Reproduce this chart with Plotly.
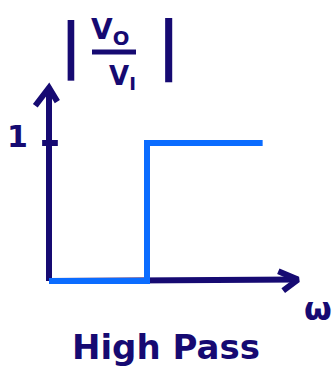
import plotly.graph_objects as go

# Ideal high-pass magnitude response |Vo/Vi| versus omega
cutoff = 1.0
omega = [0.0, cutoff, cutoff, 2.18]
gain = [0.0, 0.0, 1.0, 1.0]
gain_ticks = [1.0]
gain_tick_labels = ["1"]

NAVY = "#160a72"
BLUE = "#0b6cff"
W, H = 336, 377

# axis scaling: origin at (49, 281) px, 98 px per omega unit, 138 px per gain unit
X0, Y0, SX, SY = 49, 281, 98, 138
x_range = [-X0 / SX, (W - X0) / SX]
y_range = [(Y0 - H) / SY, Y0 / SY]

x_end = 2.54   # tip of the omega axis arrow
y_end = 1.40   # tip of the gain axis arrow

fig = go.Figure()

# vertical axis with chevron head
fig.add_trace(go.Scatter(x=[0, 0], y=[0, y_end], mode="lines",
                         line=dict(color=NAVY, width=6), hoverinfo="skip"))
fig.add_trace(go.Scatter(x=[-0.14, 0, 0.085], y=[y_end - 0.13, y_end, y_end - 0.10],
                         mode="lines", line=dict(color=NAVY, width=6), hoverinfo="skip"))
# horizontal axis with chevron head
fig.add_trace(go.Scatter(x=[0, x_end], y=[0, 0.01], mode="lines",
                         line=dict(color=NAVY, width=6), hoverinfo="skip"))
fig.add_trace(go.Scatter(x=[x_end - 0.20, x_end, x_end - 0.15], y=[0.07, 0.01, -0.07],
                         mode="lines", line=dict(color=NAVY, width=6), hoverinfo="skip"))

# tick mark on the gain axis
for t in gain_ticks:
    fig.add_trace(go.Scatter(x=[-0.07, 0.09], y=[t, t], mode="lines",
                             line=dict(color=NAVY, width=6), hoverinfo="skip"))

# step response
fig.add_trace(go.Scatter(x=omega, y=gain, mode="lines",
                         line=dict(color=BLUE, width=6), hoverinfo="skip"))


def px(x, y):
    return dict(x=x / W, y=1 - y / H, xref="paper", yref="paper",
                xanchor="center", yanchor="middle", showarrow=False)


FONT = "DejaVu Sans"
annotations = []
for t, lab in zip(gain_ticks, gain_tick_labels):
    annotations.append(dict(x=-0.32, y=t + 0.05, xref="x", yref="y", text="<b>" + lab + "</b>",
                            xanchor="center", yanchor="middle", showarrow=False,
                            font=dict(family=FONT, size=30, color=NAVY)))
annotations += [
    dict(**px(71, 46), text="<b>|</b>", font=dict(family=FONT, size=60, color=NAVY)),
    dict(**px(168, 46), text="<b>|</b>", font=dict(family=FONT, size=64, color=NAVY)),
    dict(**px(110, 31), text="<b>V<sub>O</sub></b>", font=dict(family=FONT, size=28, color=NAVY)),
    dict(**px(123, 78), text="<b>V<sub>I</sub></b>", font=dict(family=FONT, size=26, color=NAVY)),
    dict(**px(318, 309), text="<b>ω</b>", font=dict(family=FONT, size=32, color=NAVY)),
    dict(**px(166, 347), text="<b>High Pass</b>", font=dict(family=FONT, size=34, color=NAVY)),
]

shapes = [
    # fraction bar of |Vo/Vi|
    dict(type="line", xref="paper", yref="paper", x0=92 / W, x1=136 / W,
         y0=1 - 52 / H, y1=1 - 52 / H, line=dict(color=NAVY, width=5)),
]

fig.update_layout(
    width=W, height=H,
    margin=dict(l=0, r=0, t=0, b=0),
    paper_bgcolor="white", plot_bgcolor="white",
    showlegend=False,
    xaxis=dict(range=x_range, visible=False, fixedrange=True),
    yaxis=dict(range=y_range, visible=False, fixedrange=True),
    annotations=annotations,
    shapes=shapes,
)

fig.write_html("out.html")
